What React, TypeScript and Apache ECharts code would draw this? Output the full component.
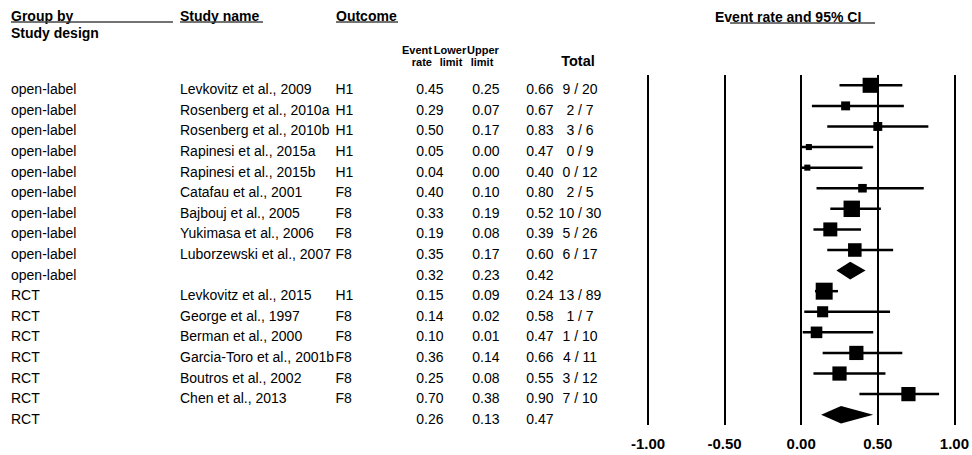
import React, { useEffect, useRef } from "react";
import * as echarts from "echarts";

const groups = [
  "open-label", "open-label", "open-label", "open-label", "open-label", "open-label",
  "open-label", "open-label", "open-label", "open-label",
  "RCT", "RCT", "RCT", "RCT", "RCT", "RCT", "RCT",
];
const studyNames = [
  "Levkovitz et al., 2009", "Rosenberg et al., 2010a", "Rosenberg et al., 2010b",
  "Rapinesi et al., 2015a", "Rapinesi et al., 2015b", "Catafau et al., 2001",
  "Bajbouj et al., 2005", "Yukimasa et al., 2006", "Luborzewski et al., 2007", "",
  "Levkovitz et al., 2015", "George et al., 1997", "Berman et al., 2000",
  "Garcia-Toro et al., 2001b", "Boutros et al., 2002", "Chen et al., 2013", "",
];
const outcomes = ["H1", "H1", "H1", "H1", "H1", "F8", "F8", "F8", "F8", "", "H1", "F8", "F8", "F8", "F8", "F8", ""];
const eventRate = [0.45, 0.29, 0.5, 0.05, 0.04, 0.4, 0.33, 0.19, 0.35, 0.32, 0.15, 0.14, 0.1, 0.36, 0.25, 0.7, 0.26];
const lowerLimit = [0.25, 0.07, 0.17, 0.0, 0.0, 0.1, 0.19, 0.08, 0.17, 0.23, 0.09, 0.02, 0.01, 0.14, 0.08, 0.38, 0.13];
const upperLimit = [0.66, 0.67, 0.83, 0.47, 0.4, 0.8, 0.52, 0.39, 0.6, 0.42, 0.24, 0.58, 0.47, 0.66, 0.55, 0.9, 0.47];
const totals = ["9 / 20", "2 / 7", "3 / 6", "0 / 9", "0 / 12", "2 / 5", "10 / 30", "5 / 26", "6 / 17", "", "13 / 89", "1 / 7", "1 / 10", "4 / 11", "3 / 12", "7 / 10", ""];
// relative weights (%) within subgroup; null = subgroup summary (diamond)
const weights: (number | null)[] = [18.5, 6.5, 6.5, 3, 3, 6, 22, 16, 15, null, 23.5, 10, 11, 16.5, 16.5, 16.5, null];
const xTicks = [-1, -0.5, 0, 0.5, 1];

const FONT = "'Liberation Sans', Arial, sans-serif";

export default function App() {
  const ref = useRef<HTMLDivElement>(null);
  useEffect(() => {
    document.body.style.margin = "0";
    const chart = echarts.init(ref.current!, null, { renderer: "svg" });
    const rowIdx = eventRate.map((_, i) => i);
    const data = eventRate.map((v, i) => [
      v, i, lowerLimit[i], upperLimit[i], weights[i] == null ? 0 : (weights[i] as number), weights[i] == null ? 1 : 0,
    ]);

    const txt = (text: string, x: number, y: number, align: string, bold = false, size = 14) => ({
      type: "text",
      x,
      y,
      silent: true,
      style: {
        text,
        fill: "#000",
        fontSize: size,
        fontFamily: FONT,
        fontWeight: bold ? "bold" : "normal",
        align,
        verticalAlign: "middle",
        textAlign: align,
        textVerticalAlign: "middle",
      },
    });
    const uline = (x1: number, x2: number, y: number) => ({
      type: "line",
      silent: true,
      shape: { x1, y1: y, x2, y2: y },
      style: { stroke: "#444", lineWidth: 1.5 },
    });

    const option: any = {
      animation: false,
      grid: { left: 648, right: 15, top: 75, bottom: 30 },
      xAxis: {
        type: "value",
        min: xTicks[0],
        max: xTicks[xTicks.length - 1],
        interval: 0.5,
        axisLine: { show: false },
        axisTick: { show: false },
        splitLine: { show: true, lineStyle: { color: "#000", width: 2 } },
        axisLabel: {
          formatter: (v: number) => v.toFixed(2),
          fontWeight: "bold",
          fontSize: 15,
          fontFamily: FONT,
          color: "#000",
          margin: 11,
        },
      },
      yAxis: {
        type: "category",
        data: rowIdx,
        inverse: true,
        show: false,
      },
      graphic: [
        txt("Group by", 11, 16, "left", true),
        txt("Study design", 11, 33, "left", true),
        txt("Study name", 180, 16, "left", true),
        txt("Outcome", 336, 16, "left", true),
        txt("Event rate and 95% CI", 715, 17, "left", true),
        txt("Event", 432, 49.5, "right", true, 11),
        txt("rate", 432, 61.5, "right", true, 11),
        txt("Lower", 450, 49.5, "center", true, 11),
        txt("limit", 451, 61.5, "center", true, 11),
        txt("Upper", 483, 49.5, "center", true, 11),
        txt("limit", 482, 61.5, "center", true, 11),
        txt("Total", 578, 61, "center", true, 14.5),
        uline(11, 173, 22),
        uline(180, 263, 22),
        uline(336, 398, 22),
        uline(730, 875, 23),
      ],
      series: [
        {
          type: "custom",
          name: "table",
          clip: false,
          silent: true,
          data,
          renderItem: (params: any, api: any) => {
            const i = params.dataIndex;
            const y = api.coord([0, api.value(1)])[1] + 4;
            return {
              type: "group",
              children: [
                txt(groups[i], 11, y, "left"),
                txt(studyNames[i], 180, y, "left"),
                txt(outcomes[i], 335.5, y, "left"),
                txt(eventRate[i].toFixed(2), 443.5, y, "right"),
                txt(lowerLimit[i].toFixed(2), 499.5, y, "right"),
                txt(upperLimit[i].toFixed(2), 553.5, y, "right"),
                txt(totals[i], 580, y, "center"),
              ],
            };
          },
        },
        {
          type: "custom",
          name: "forest",
          clip: false,
          silent: true,
          data,
          renderItem: (params: any, api: any) => {
            const row = api.value(1);
            const est = api.coord([api.value(0), row]);
            const lo = api.coord([api.value(2), row]);
            const hi = api.coord([api.value(3), row]);
            const summary = api.value(5) === 1;
            if (summary) {
              const h = 8.8;
              return {
                type: "polygon",
                shape: {
                  points: [
                    [lo[0], est[1]],
                    [est[0], est[1] - h],
                    [hi[0], est[1]],
                    [est[0], est[1] + h],
                  ],
                },
                style: { fill: "#000" },
              };
            }
            const s = 3.5 * Math.sqrt(api.value(4));
            return {
              type: "group",
              children: [
                {
                  type: "line",
                  shape: { x1: lo[0], y1: est[1], x2: hi[0], y2: est[1] },
                  style: { stroke: "#000", lineWidth: 2.5 },
                },
                {
                  type: "rect",
                  shape: { x: est[0] - s / 2, y: est[1] - s / 2, width: s, height: s },
                  style: { fill: "#000" },
                },
              ],
            };
          },
        },
      ],
    };
    chart.setOption(option);
    return () => chart.dispose();
  }, []);
  return <div ref={ref} style={{ width: 972, height: 455 }} />;
}
